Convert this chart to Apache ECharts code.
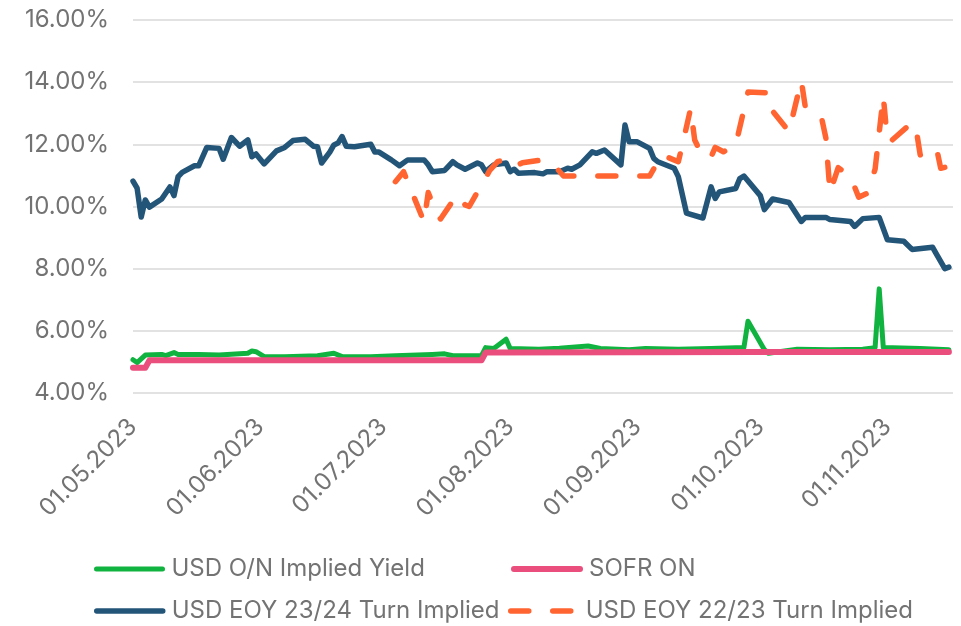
<!DOCTYPE html>
<html><head><meta charset="utf-8">
<script src="https://cdn.jsdelivr.net/npm/echarts@6/dist/echarts.min.js"></script>
<style>html,body{margin:0;padding:0;background:#fff}#c{width:961px;height:626px}</style>
</head><body><div id="c"></div>
<script>
const seriesNames = ['USD O/N Implied Yield', 'SOFR ON', 'USD EOY 23/24 Turn Implied', 'USD EOY 22/23 Turn Implied'];
const xMin = '2023-05-01';
const xMax = '2023-11-17';
const yMin = 4, yMax = 16, yStep = 2;

const onDates = ['2023-05-01','2023-05-02','2023-05-04','2023-05-08','2023-05-09','2023-05-11','2023-05-12','2023-05-17','2023-05-22','2023-05-29','2023-05-30','2023-05-31','2023-06-02','2023-06-07','2023-06-15','2023-06-19','2023-06-21','2023-06-28','2023-07-04','2023-07-13','2023-07-16','2023-07-18','2023-07-25','2023-07-26','2023-07-28','2023-07-31','2023-08-01','2023-08-08','2023-08-13','2023-08-20','2023-08-23','2023-08-30','2023-09-03','2023-09-11','2023-09-19','2023-09-27','2023-09-28','2023-10-02','2023-10-03','2023-10-10','2023-10-18','2023-10-26','2023-10-29','2023-10-30','2023-10-31','2023-11-09','2023-11-16'];
const onValues = [5.07,4.98,5.22,5.24,5.20,5.30,5.24,5.24,5.22,5.28,5.35,5.33,5.17,5.17,5.20,5.28,5.17,5.17,5.20,5.24,5.26,5.20,5.20,5.46,5.43,5.73,5.43,5.41,5.44,5.51,5.43,5.39,5.43,5.41,5.43,5.46,6.31,5.39,5.28,5.41,5.39,5.41,5.46,7.35,5.46,5.43,5.39];

const sofrDates = ['2023-05-01','2023-05-04','2023-05-05','2023-06-15','2023-07-25','2023-07-26','2023-08-31','2023-09-30','2023-10-31','2023-11-16'];
const sofrValues = [4.81,4.81,5.05,5.05,5.05,5.30,5.31,5.32,5.32,5.32];

const turn2324Dates = ['2023-05-01','2023-05-02','2023-05-03','2023-05-04','2023-05-05','2023-05-08','2023-05-10','2023-05-11','2023-05-12','2023-05-13','2023-05-16','2023-05-17','2023-05-19','2023-05-22','2023-05-23','2023-05-25','2023-05-27','2023-05-29','2023-05-30','2023-05-31','2023-06-02','2023-06-05','2023-06-07','2023-06-09','2023-06-12','2023-06-14','2023-06-15','2023-06-16','2023-06-18','2023-06-19','2023-06-20','2023-06-21','2023-06-22','2023-06-24','2023-06-28','2023-06-29','2023-06-30','2023-07-03','2023-07-05','2023-07-07','2023-07-11','2023-07-12','2023-07-13','2023-07-16','2023-07-18','2023-07-19','2023-07-21','2023-07-24','2023-07-25','2023-07-26','2023-07-28','2023-07-31','2023-08-01','2023-08-02','2023-08-03','2023-08-07','2023-08-09','2023-08-10','2023-08-13','2023-08-15','2023-08-16','2023-08-18','2023-08-21','2023-08-22','2023-08-24','2023-08-28','2023-08-29','2023-08-30','2023-09-01','2023-09-04','2023-09-05','2023-09-06','2023-09-10','2023-09-11','2023-09-13','2023-09-17','2023-09-19','2023-09-20','2023-09-21','2023-09-25','2023-09-26','2023-09-27','2023-10-01','2023-10-02','2023-10-04','2023-10-08','2023-10-11','2023-10-12','2023-10-17','2023-10-18','2023-10-23','2023-10-24','2023-10-26','2023-10-30','2023-11-01','2023-11-05','2023-11-07','2023-11-12','2023-11-13','2023-11-15','2023-11-16'];
const turn2324Values = [10.82,10.59,9.66,10.21,9.98,10.24,10.63,10.35,10.96,11.10,11.31,11.31,11.90,11.87,11.52,12.22,11.94,12.14,11.60,11.69,11.37,11.79,11.90,12.12,12.16,11.94,11.92,11.40,11.75,11.98,12.04,12.25,11.94,11.92,12.00,11.75,11.75,11.50,11.31,11.50,11.50,11.34,11.12,11.16,11.44,11.34,11.20,11.40,11.34,11.12,11.34,11.40,11.12,11.20,11.07,11.09,11.05,11.12,11.12,11.23,11.20,11.34,11.76,11.71,11.82,11.34,12.62,12.08,12.08,11.87,11.55,11.44,11.23,10.96,9.79,9.63,10.63,10.26,10.47,10.58,10.90,10.98,10.35,9.90,10.24,10.13,9.52,9.65,9.65,9.58,9.52,9.36,9.61,9.65,8.93,8.88,8.62,8.69,8.46,8.00,8.05];

const turn2223Dates = ['2023-07-04','2023-07-06','2023-07-11','2023-07-12','2023-07-14','2023-07-15','2023-07-19','2023-07-21','2023-07-22','2023-07-27','2023-07-29','2023-07-31','2023-08-02','2023-08-04','2023-08-09','2023-08-12','2023-08-14','2023-09-04','2023-09-07','2023-09-11','2023-09-12','2023-09-14','2023-09-15','2023-09-17','2023-09-19','2023-09-20','2023-09-22','2023-09-25','2023-09-28','2023-10-03','2023-10-04','2023-10-08','2023-10-11','2023-10-12','2023-10-16','2023-10-17','2023-10-18','2023-10-20','2023-10-23','2023-10-25','2023-10-27','2023-10-29','2023-10-31','2023-11-01','2023-11-02','2023-11-07','2023-11-08','2023-11-09','2023-11-13','2023-11-14','2023-11-15','2023-11-16'];
const turn2223Values = [10.80,11.12,9.50,10.45,9.79,9.60,10.37,10.05,10.00,11.16,11.45,11.50,11.28,11.41,11.50,11.28,10.98,10.98,11.66,11.44,11.98,13.15,12.14,11.60,11.60,11.90,11.76,11.98,13.68,13.66,13.07,12.41,14.05,13.18,12.82,12.20,10.45,11.25,10.96,10.30,10.42,11.20,13.55,12.12,12.12,12.70,12.50,11.66,11.87,11.23,11.26,10.88];

const colors = ['#10b33f', '#ea4e7d', '#235579', '#ff6431'];
const widths = [5, 6, 5.5, 5.5];
const FONT = 'Inter';
const TXT = '#737373';

function pairs(d, v) { return d.map((x, i) => [x, v[i]]); }
function pad(n) { return (n < 10 ? '0' : '') + n; }

const chart = echarts.init(document.getElementById('c'), null, {renderer: 'canvas'});
function legendAt(i, left, top, dash) {
  return {
    data: [seriesNames[i]], left: left, top: top,
    orient: 'horizontal', itemWidth: 66, itemHeight: 14, itemGap: 0, padding: 0,
    itemStyle: {opacity: 0},
    lineStyle: {width: widths[i], color: colors[i], type: dash || 'solid', cap: 'round'},
    textStyle: {fontFamily: FONT, fontSize: 24, color: TXT, padding: [0, 0, 0, 4]}
  };
}
chart.setOption({
  animation: false,
  backgroundColor: '#ffffff',
  grid: {left: 133, right: 8, top: 20, bottom: 233, containLabel: false},
  legend: [
    legendAt(0, 94, 557),
    legendAt(1, 511, 557),
    legendAt(2, 94, 599),
    legendAt(3, 508, 599, [18, 24])
  ],
  xAxis: {
    type: 'time', min: xMin, max: xMax,
    axisLine: {show: false}, axisTick: {show: false}, splitLine: {show: false},
    axisLabel: {
      rotate: 45, margin: 30, fontFamily: FONT, fontSize: 24, color: TXT,
      formatter: function (v) {
        const d = new Date(v);
        if (d.getDate() !== 1) return '';
        return pad(d.getDate()) + '.' + pad(d.getMonth() + 1) + '.' + d.getFullYear();
      }
    }
  },
  yAxis: {
    type: 'value', min: yMin, max: yMax, interval: yStep,
    axisLine: {show: false}, axisTick: {show: false},
    splitLine: {lineStyle: {color: '#d9d9d9', width: 1.5}},
    axisLabel: {margin: 24, fontFamily: FONT, fontSize: 24, color: TXT,
      formatter: v => v.toFixed(2) + '%'}
  },
  series: [
    {name: seriesNames[0], type: 'line', data: pairs(onDates, onValues), symbol: 'none', showSymbol: false,
      color: colors[0], lineStyle: {width: widths[0], color: colors[0], cap: 'round', join: 'round'}},
    {name: seriesNames[1], type: 'line', data: pairs(sofrDates, sofrValues), symbol: 'none', showSymbol: false,
      color: colors[1], lineStyle: {width: widths[1], color: colors[1], cap: 'round', join: 'round'}},
    {name: seriesNames[2], type: 'line', data: pairs(turn2324Dates, turn2324Values), symbol: 'none', showSymbol: false,
      color: colors[2], lineStyle: {width: widths[2], color: colors[2], cap: 'round', join: 'round'}},
    {name: seriesNames[3], type: 'line', data: pairs(turn2223Dates, turn2223Values), symbol: 'none', showSymbol: false,
      color: colors[3], lineStyle: {width: widths[3], color: colors[3], type: [18, 24], cap: 'round', join: 'round'}}
  ]
});
</script></body></html>
